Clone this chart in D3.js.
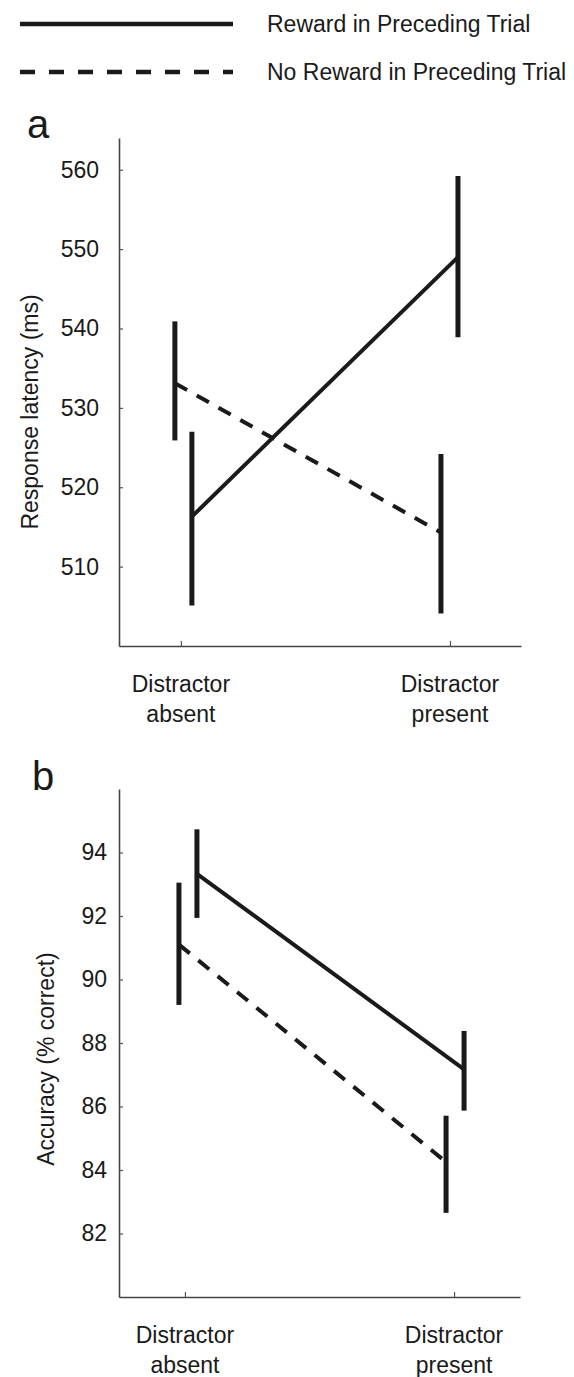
<!DOCTYPE html>
<html>
<head>
<meta charset="utf-8">
<script src="https://cdn.jsdelivr.net/npm/d3@7"></script>
<style>
  html, body { margin: 0; padding: 0; background: #fff; }
  svg { display: block; }
  text { font-family: "Liberation Sans", Arial, sans-serif; fill: #1a1a1a; }
</style>
</head>
<body>
<script>
// ---- Data ----
const conditions = ["Distractor absent", "Distractor present"];
const conditionLines = [["Distractor", "absent"], ["Distractor", "present"]];
const seriesNames = ["Reward in Preceding Trial", "No Reward in Preceding Trial"];

// Panel a: response latency (ms)
const latencyReward = [516.3, 549.0];
const latencyRewardLow = [505.1, 538.9];
const latencyRewardHigh = [527.0, 559.2];
const latencyNoReward = [533.1, 514.3];
const latencyNoRewardLow = [525.9, 504.1];
const latencyNoRewardHigh = [540.9, 524.2];
const latencyTicks = [510, 520, 530, 540, 550, 560];

// Panel b: accuracy (% correct)
const accReward = [93.33, 87.17];
const accRewardLow = [91.94, 85.87];
const accRewardHigh = [94.73, 88.38];
const accNoReward = [91.1, 84.25];
const accNoRewardLow = [89.2, 82.65];
const accNoRewardHigh = [93.05, 85.71];
const accTicks = [82, 84, 86, 88, 90, 92, 94];

// ---- Drawing ----
const W = 574, H = 1377;
const FS = 23;
const svg = d3.select("body").append("svg").attr("width", W).attr("height", H);

// Legend
const legend = svg.append("g");
const legendItems = [
  { name: seriesNames[0], dash: null, y: 24 },
  { name: seriesNames[1], dash: "15,14", y: 72 }
];
legendItems.forEach(d => {
  legend.append("line").attr("x1", 20).attr("x2", 233).attr("y1", d.y).attr("y2", d.y)
    .attr("stroke", "#1a1a1a").attr("stroke-width", 4.5)
    .attr("stroke-dasharray", d.dash);
  legend.append("text").attr("x", 267).attr("y", d.y + 8)
    .attr("font-size", FS).text(d.name);
});

function panel(opts) {
  const g = svg.append("g");
  const x = d3.scaleLinear().domain(opts.xDomain).range([opts.left, opts.right]);
  const y = d3.scaleLinear().domain(opts.yDomain).range([opts.bottom, opts.top]);

  // panel letter
  g.append("text").attr("x", opts.letterX).attr("y", opts.letterY)
    .attr("font-size", 40).text(opts.letter);

  // y axis
  const ya = g.append("g").attr("transform", `translate(${opts.left},0)`)
    .call(d3.axisLeft(y).tickValues(opts.ticks).tickSize(-4).tickSizeOuter(0).tickPadding(opts.tickPad));
  ya.select(".domain").attr("stroke", "#444").attr("stroke-width", 1.6);
  ya.selectAll(".tick line").attr("stroke", "#555").attr("stroke-width", 1.2);
  ya.selectAll(".tick text").attr("font-size", FS).attr("fill", "#1a1a1a")
    .style("font-family", '"Liberation Sans", Arial, sans-serif');

  // x axis
  const xa = g.append("g").attr("transform", `translate(0,${opts.bottom})`)
    .call(d3.axisBottom(x).tickValues([0, 1]).tickSize(-5).tickSizeOuter(0).tickFormat(""));
  xa.select(".domain").attr("stroke", "#444").attr("stroke-width", 1.6);
  xa.selectAll(".tick line").attr("stroke", "#555").attr("stroke-width", 1.2);

  // category labels
  [0, 1].forEach(i => {
    const t = g.append("text").attr("text-anchor", "middle").attr("font-size", FS)
      .attr("x", x(i)).attr("y", opts.bottom + 46);
    conditionLines[i].forEach((line, k) => {
      t.append("tspan").attr("x", x(i)).attr("dy", k === 0 ? 0 : 30).text(line);
    });
  });

  // y title
  g.append("text").attr("text-anchor", "middle").attr("font-size", FS)
    .attr("transform", `translate(${opts.titleX},${opts.titleY}) rotate(-90)`)
    .text(opts.title);

  const series = [
    { mean: opts.reward, low: opts.rewardLow, high: opts.rewardHigh, off: opts.rewardOff, dash: null },
    { mean: opts.noReward, low: opts.noRewardLow, high: opts.noRewardHigh, off: opts.noRewardOff, dash: "14,11" }
  ];
  series.forEach(s => {
    const pts = s.mean.map((m, i) => [x(i) + s.off[i], y(m)]);
    g.append("path").attr("d", d3.line()(pts)).attr("fill", "none")
      .attr("stroke", "#1a1a1a").attr("stroke-width", 4).attr("stroke-dasharray", s.dash);
    s.mean.forEach((m, i) => {
      g.append("line").attr("x1", x(i) + s.off[i]).attr("x2", x(i) + s.off[i])
        .attr("y1", y(s.low[i])).attr("y2", y(s.high[i]))
        .attr("stroke", "#1a1a1a").attr("stroke-width", 5);
    });
  });
}

panel({
  letter: "a", letterX: 27, letterY: 138,
  xDomain: [-0.23, 1.264], left: 119, right: 521,
  yDomain: [500, 564], top: 138, bottom: 646,
  ticks: latencyTicks, tickPad: 20,
  title: "Response latency (ms)", titleX: 38, titleY: 412,
  reward: latencyReward, rewardLow: latencyRewardLow, rewardHigh: latencyRewardHigh, rewardOff: [11, 8],
  noReward: latencyNoReward, noRewardLow: latencyNoRewardLow, noRewardHigh: latencyNoRewardHigh, noRewardOff: [-6, -9]
});

panel({
  letter: "b", letterX: 32, letterY: 790,
  xDomain: [-0.245, 1.245], left: 119, right: 520,
  yDomain: [80, 96], top: 789, bottom: 1297,
  ticks: accTicks, tickPad: 12,
  title: "Accuracy (% correct)", titleX: 54, titleY: 1059,
  reward: accReward, rewardLow: accRewardLow, rewardHigh: accRewardHigh, rewardOff: [12, 10],
  noReward: accNoReward, noRewardLow: accNoRewardLow, noRewardHigh: accNoRewardHigh, noRewardOff: [-6, -8]
});
</script>
</body>
</html>
